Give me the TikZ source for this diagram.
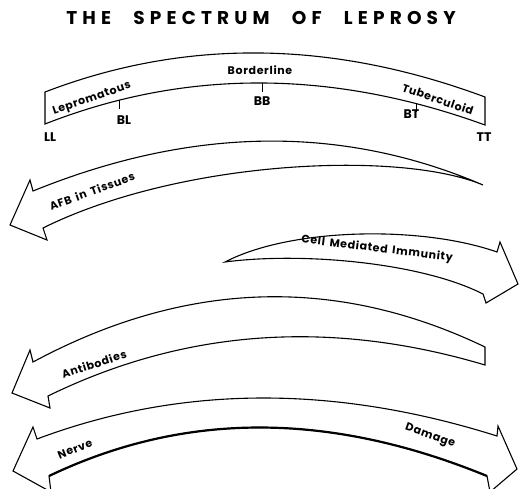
\documentclass[tikz,border=0pt]{standalone}
\usepackage{fontspec}
\setmainfont{Poppins}
\newfontfamily\titlefont[LetterSpace=28]{Poppins}
\newfontfamily\lblfont[LetterSpace=6, WordSpace=1.6]{Poppins}
\newfontfamily\codefont{Poppins}

\begin{document}
\begin{tikzpicture}[x=1pt, y=-1pt,
    outline/.style={draw, line width=1.1pt, line join=miter},
    lbl/.style={font=\lblfont\fontsize{11}{12}\selectfont\bfseries, inner sep=0pt},
    code/.style={font=\codefont\fontsize{12.5}{14}\selectfont\bfseries, inner sep=0pt},
    spectick/.style={line width=1pt}]
  \useasboundingbox (0,0) rectangle (519,488);
  % Title
  \node[font=\titlefont\fontsize{18.5}{20}\selectfont\bfseries] (title) at (261,18)
    {THE\hspace{1.2em}SPECTRUM\hspace{1.2em}OF\hspace{1.2em}LEPROSY};
  % Spectrum band, ticks on the inner edge
  \draw[outline] (45,92) .. controls (185,38.3) and (331.7,40) .. (485,97) -- (485,125)
    .. controls (331.7,69.3) and (185,69) .. (45,124)
    coordinate[pos=.15] (bt) coordinate[pos=.495] (bb) coordinate[pos=.823] (bl) -- cycle;
  \draw[spectick] (bl) -- ++(0,9) node[code, below=6pt, xshift=4pt] (blt) {BL};
  \draw[spectick] (bb) -- ++(0,9) node[code, below=4pt] (bbt) {BB};
  \draw[spectick] (bt) -- ++(0,8) node[code, below=-2pt, xshift=-5pt] (btt) {BT};
  \node[code] (ll) at (50,137) {LL};
  \node[code] (tt) at (484,137) {TT};
  \node[lbl, rotate=19] (lep) at (92,99) {Lepromatous};
  \node[lbl] (bord) at (260,70) {Borderline};
  \node[lbl, rotate=-19] (tub) at (438,99) {Tuberculoid};
  % AFB in tissues: tapers to the right
  \draw[outline] (483,185) .. controls (342.3,124.7) and (192.3,126.3) .. (33,191)
    -- (30,180) -- (10,225) -- (47,240) -- (43,228)
    .. controls (180,160) and (400,150) .. (483,185) -- cycle;
  \node[lbl, rotate=20] (afb) at (92,191) {AFB in Tissues};
  % Cell mediated immunity: tapers to the left
  \draw[outline] (225,262) .. controls (290,228) and (420,225) .. (497,252)
    -- (500,242) -- (518,284) -- (486,303) -- (483,294)
    .. controls (420,262) and (300,252) .. (225,262) -- cycle;
  \node[lbl, rotate=-7] (cmi) at (377,249) {Cell Mediated Immunity};
  % Antibodies
  \draw[outline] (485,347) .. controls (335.7,275.3) and (185,280.3) .. (33,362)
    -- (30,350) -- (12,393) -- (50,408) -- (48,396)
    .. controls (185,329) and (330.7,319) .. (485,365) -- cycle;
  \node[lbl, rotate=18] (ab) at (94,364) {Antibodies};
  % Nerve damage, both ways
  \draw[outline] (37,439) .. controls (181,385) and (334.3,384.7) .. (497,436)
    -- (498,426) -- (517,469) -- (490,492) -- (487,476)
    .. controls (330,411.7) and (185,411) .. (49,476)
    -- (51,492) -- (13,471) -- (33,427) -- cycle;
  \draw[line width=2.2pt] (487,476) .. controls (330,411.7) and (185,411) .. (49,476);
  \node[lbl, rotate=22] (nerve) at (75,449) {Nerve};
  \node[lbl, rotate=-20] (dmg) at (430,436) {Damage};
\end{tikzpicture}
\end{document}
